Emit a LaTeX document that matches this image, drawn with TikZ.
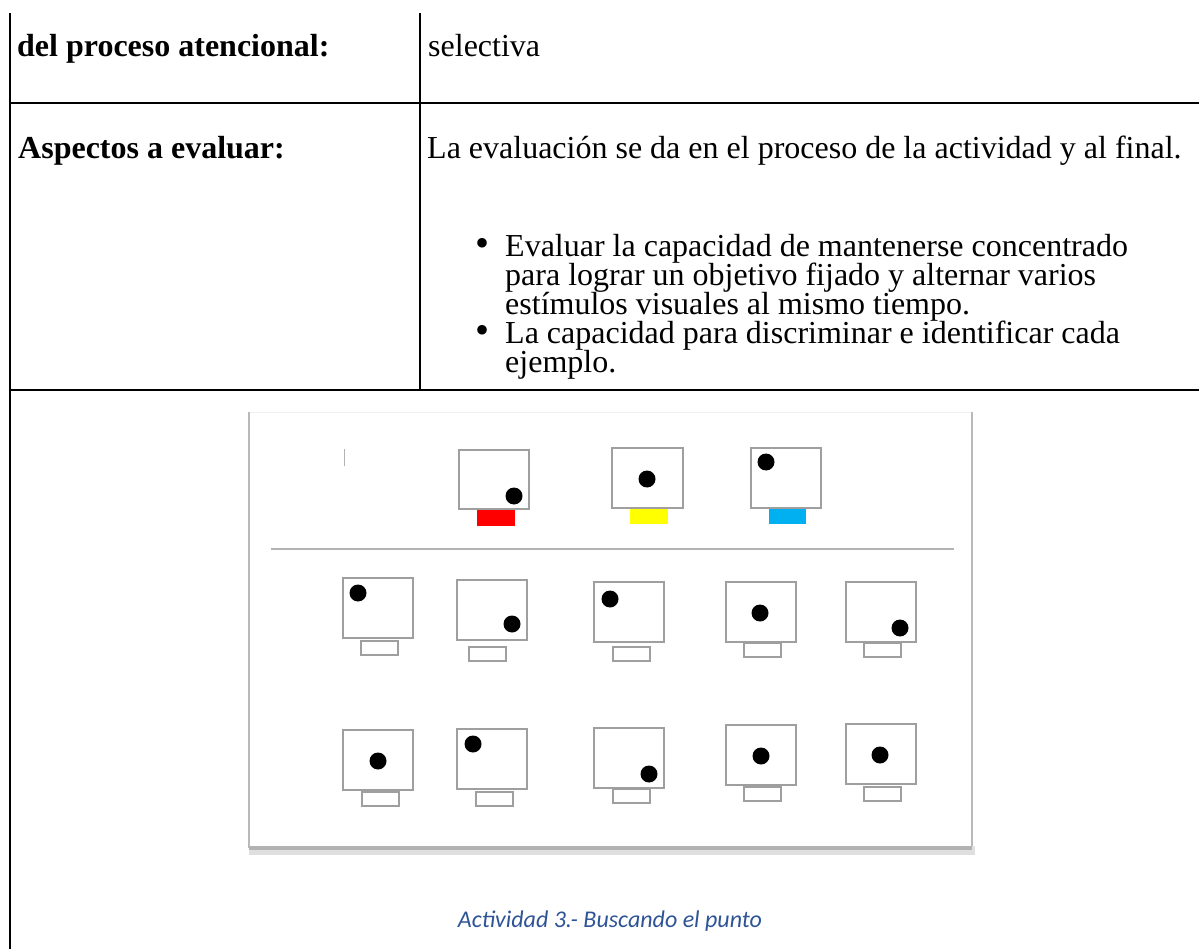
\documentclass[tikz,border=0pt]{standalone}
\usepackage{fontspec}
\setmainfont{Liberation Serif}
\newfontfamily\calibri{Carlito}
\definecolor{pie}{RGB}{47,84,150}
\definecolor{celeste}{RGB}{0,176,240}
\definecolor{amarillo}{RGB}{255,255,0}

\begin{document}
\begin{tikzpicture}[x=1pt,y=-1pt,
	texto/.style={anchor=base west,inner sep=0pt,font=\fontsize{32}{29}\selectfont},
	negrita/.style={anchor=base west,inner sep=0pt,font=\fontsize{32}{29}\selectfont\bfseries},
	vineta/.style={anchor=center,inner sep=0pt,font=\fontsize{40}{40}\selectfont},
	regla/.style={line width=2.7pt},
	pantalla/.style={draw=gray!75,line width=1.3pt},
	marco/.style={gray!55,line width=2.5pt}]
	\useasboundingbox (0,0) rectangle (1199,949);
	% tabla
	\draw[regla] (10,13) -- (10,949);
	\draw[regla] (420,13) -- (420,390);
	\draw[regla] (10,103) -- (1199,103);
	\draw[regla] (10,390) -- (1199,390);
	\node[negrita] (proceso) at (17,57) {del proceso atencional:};
	\node[texto] (selectiva) at (428,57) {selectiva};
	\node[negrita] (aspectos) at (18,159) {Aspectos a evaluar:};
	\node[texto] (evaluacion) at (427,159) {La evaluación se da en el proceso de la actividad y al final.};
	\node[vineta] (vineta1) at (482,247) {\textbullet};
	\node[texto] (linea1) at (505,257) {Evaluar la capacidad de mantenerse concentrado};
	\node[texto] (linea2) at (505,286) {para lograr un objetivo fijado y alternar varios};
	\node[texto] (linea3) at (505,315) {estímulos visuales al mismo tiempo.};
	\node[vineta] (vineta2) at (482,334) {\textbullet};
	\node[texto] (linea4) at (505,344) {La capacidad para discriminar e identificar cada};
	\node[texto] (linea5) at (505,373) {ejemplo.};
	% tarjeta de la actividad
	\fill[white] (249,412) rectangle (972,848);
	\draw[gray!12,line width=1pt] (249,412) -- (972,412);
	\draw[marco] (249,412) -- (249,848);
	\draw[marco] (972,412) -- (972,848);
	\draw[gray!25,line width=9pt] (249,850) -- (975,850);
	\draw[gray!60,line width=3.5pt] (249,848) -- (972,848);
	\draw[gray!60,line width=1pt] (344,449) -- (344,466);
	% muestras de arriba
	\draw[pantalla] (459,450) rectangle (529,509);
	\fill[red] (477,510) rectangle (515,526);
	\fill (514,496) circle (8.5pt);
	\draw[pantalla] (612,448) rectangle (683,508);
	\fill[amarillo] (630,509) rectangle (668,524);
	\fill (647,479) circle (8.5pt);
	\draw[pantalla] (751,448) rectangle (821,508);
	\fill[celeste] (769,509) rectangle (806,524);
	\fill (766,462) circle (8.5pt);
	\draw[gray!60,line width=1.5pt] (271,549) -- (954,549);
	% pantallas para buscar
	\foreach \x/\y/\px/\py/\sx/\sy in {343/578/358/593/361/641, 457/580/512/624/469/647,
		594/582/610/599/613/647, 726/582/760/613/744/643, 846/582/900/628/864/643,
		343/730/378/761/362/792, 457/729/473/744/476/792, 594/728/649/774/613/789,
		726/725/761/756/744/787, 846/724/880/755/864/787}
	{
		\draw[pantalla] (\x,\y) rectangle ++(70,60);
		\draw[pantalla] (\sx,\sy) rectangle ++(37,14);
		\fill (\px,\py) circle (8.5pt);
	}
	\node[text=pie,font=\calibri\itshape\fontsize{24}{27}\selectfont,inner sep=0pt] (pie) at (610,921) {Actividad 3.- Buscando el punto};
\end{tikzpicture}
\end{document}
